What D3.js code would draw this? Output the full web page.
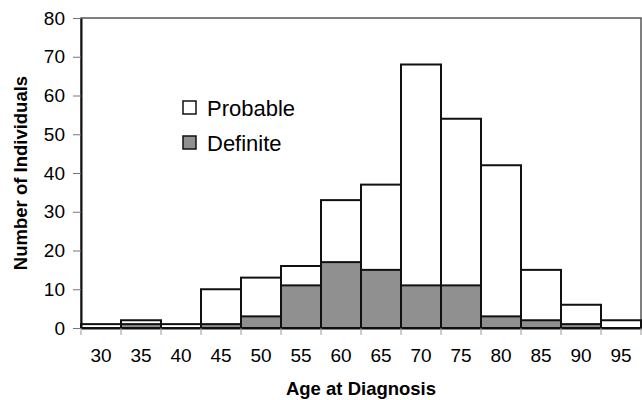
<!DOCTYPE html>
<html>

<head>
  <meta charset='utf-8'>
  <script src="https://cdn.jsdelivr.net/npm/d3@7/dist/d3.min.js"></script>
  <style type="text/css">
    body {
      margin: 0;
      background: #fff;
    }

    text {
      font-family: Arial, "Liberation Sans", sans-serif;
      fill: #000;
    }

    .axis text {
      font-size: 19px;
    }
  </style>
</head>

<body>
  <script>
    // age bins (label shown in the middle of each 5-year bin)
    let ages = ["30", "35", "40", "45", "50", "55", "60", "65", "70", "75", "80", "85", "90", "95"]
    let definite = [0, 1, 0, 1, 3, 11, 17, 15, 11, 11, 3, 2, 1, 0]
    let probable = [1, 1, 1, 9, 10, 5, 16, 22, 57, 43, 39, 13, 5, 2]
    let yTicks = [0, 10, 20, 30, 40, 50, 60, 70, 80]

    let w = 642
    let h = 400
    let margin = { top: 18, right: 1, bottom: 72, left: 81 }

    let dataset = ages.map((a, i) => ({
      age: a,
      definite: definite[i],
      total: definite[i] + probable[i]
    }))

    let xScale = d3.scaleBand()
      .domain(ages)
      .range([margin.left, w - margin.right])
      .paddingInner(0)

    let yScale = d3.scaleLinear()
      .domain([0, 80])
      .range([h - margin.bottom, margin.top])

    let svg = d3.select('body')
      .append('svg')
      .attr('width', w)
      .attr('height', h)

    // frame
    svg.append("rect")
      .attr("x", margin.left)
      .attr("y", margin.top)
      .attr("width", w - margin.right - margin.left)
      .attr("height", yScale(0) - margin.top)
      .attr("fill", "none")
      .attr("stroke", "#555")
      .attr("stroke-width", 1.5)

    // white bars = probable + definite
    svg.selectAll(".total")
      .data(dataset)
      .enter()
      .append("rect")
      .attr("class", "total")
      .attr("x", d => xScale(d.age))
      .attr("y", d => yScale(d.total))
      .attr("width", xScale.bandwidth())
      .attr("height", d => yScale(0) - yScale(d.total))
      .attr("fill", "#fff")
      .attr("stroke", "#111")
      .attr("stroke-width", 2)

    // grey bars = definite
    svg.selectAll(".definite")
      .data(dataset.filter(d => d.definite > 0))
      .enter()
      .append("rect")
      .attr("class", "definite")
      .attr("x", d => xScale(d.age))
      .attr("y", d => yScale(d.definite))
      .attr("width", xScale.bandwidth())
      .attr("height", d => yScale(0) - yScale(d.definite))
      .attr("fill", "#909090")
      .attr("stroke", "#111")
      .attr("stroke-width", 2)

    // y axis
    let yAxis = d3.axisLeft(yScale)
      .tickValues(yTicks)
      .tickSize(8)
      .tickPadding(8)
      .tickSizeOuter(0)

    let gy = svg.append("g")
      .attr("class", "axis")
      .attr("transform", "translate(" + margin.left + ",0)")
      .call(yAxis)
    gy.select(".domain").attr("stroke", "#111").attr("stroke-width", 2)
    gy.selectAll(".tick line").attr("stroke", "#777")

    // x axis labels centred in bins
    let xAxis = d3.axisBottom(xScale)
      .tickSize(0)
      .tickPadding(21)
      .tickSizeOuter(0)

    let gx = svg.append("g")
      .attr("class", "axis")
      .attr("transform", "translate(0," + yScale(0) + ")")
      .call(xAxis)
    gx.select(".domain").attr("stroke", "#111").attr("stroke-width", 2)

    // tick marks on bin boundaries
    let edges = ages.map(a => xScale(a)).concat([xScale(ages[ages.length - 1]) + xScale.bandwidth()])
    svg.selectAll(".edge")
      .data(edges)
      .enter()
      .append("line")
      .attr("class", "edge")
      .attr("x1", d => d)
      .attr("x2", d => d)
      .attr("y1", yScale(0))
      .attr("y2", yScale(0) + 7)
      .attr("stroke", "#999")
      .attr("stroke-width", 1)

    // axis titles
    svg.append("text")
      .attr("x", (margin.left + w - margin.right) / 2)
      .attr("y", 395)
      .attr("text-anchor", "middle")
      .attr("font-size", "18.5px")
      .attr("font-weight", "bold")
      .text("Age at Diagnosis")

    svg.append("text")
      .attr("transform", "translate(27," + (margin.top + yScale(0)) / 2 + ") rotate(-90)")
      .attr("text-anchor", "middle")
      .attr("font-size", "18.5px")
      .attr("font-weight", "bold")
      .text("Number of Individuals")

    // legend
    let legend = [
      { name: "Probable", fill: "#fff" },
      { name: "Definite", fill: "#909090" }
    ]
    let lg = svg.selectAll(".legend")
      .data(legend)
      .enter()
      .append("g")
      .attr("class", "legend")
      .attr("transform", (d, i) => "translate(183," + (101 + i * 35) + ")")
    lg.append("rect")
      .attr("width", 13)
      .attr("height", 13)
      .attr("fill", d => d.fill)
      .attr("stroke", "#111")
      .attr("stroke-width", 1.5)
    lg.append("text")
      .attr("x", 24)
      .attr("y", 14.5)
      .attr("font-size", "22px")
      .text(d => d.name)
  </script>
</body>

</html>
